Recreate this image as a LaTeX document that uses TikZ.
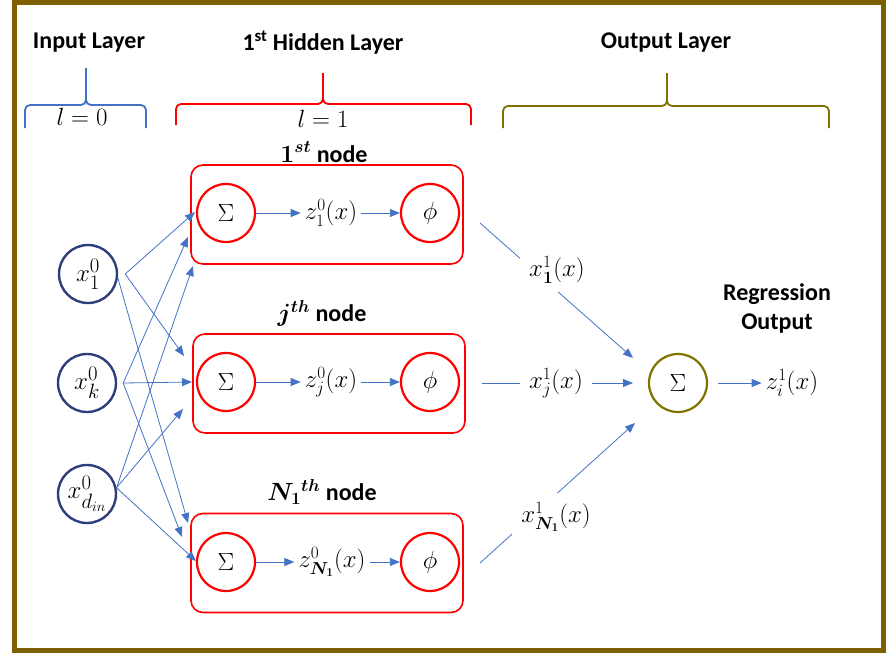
\documentclass[tikz,border=0pt]{standalone}
\usepackage{fontspec}
\setmainfont{Carlito}
\usepackage{amsmath,bm}
\usetikzlibrary{arrows.meta,positioning}

\definecolor{frameolive}{HTML}{7F6000}
\definecolor{outolive}{HTML}{7F7300}
\definecolor{inblue}{HTML}{2F3E7A}
\definecolor{arrowblue}{HTML}{4472C4}

\begin{document}
\begin{tikzpicture}[x=1pt,y=-1pt,
    >={Triangle[length=10pt,width=8pt]},
    conn/.style={->,arrowblue,line width=0.8pt},
    mathfont/.style={font=\fontsize{25}{29}\selectfont},
    innode/.style={circle,font=\fontsize{28}{32}\selectfont,draw=inblue,line width=2.4pt,minimum size=58pt,inner sep=0pt},
    sumnode/.style={circle,mathfont,draw=red,line width=2.2pt,minimum size=58pt,inner sep=0pt},
    hbox/.style={draw=red,line width=1.6pt,rounded corners=12pt,minimum width=272pt,minimum height=99pt},
    head/.style={font=\bfseries\fontsize{24}{29}\selectfont},
    lab/.style={mathfont,inner sep=4pt},
    wlab/.style={lab,fill=white,inner sep=9pt},
    brc/.style={line width=1.8pt,rounded corners=5pt}]
  \useasboundingbox (0,0) rectangle (886,653);
  \draw[frameolive,line width=5pt] (14.5,2.5) rectangle (883,650);

  % layer titles
  \node[head] (inhead) at (89,43) {Input Layer};
  \node[head] (hidhead) at (323,43) {1\textsuperscript{st} Hidden Layer};
  \node[head] (outhead) at (666,43) {Output Layer};

  % braces
  \draw[brc,arrowblue] (25,128) -- (25,105) -- (86,105) -- (86,68);
  \draw[brc,arrowblue] (146,128) -- (146,105) -- (86,105) -- (86,68);
  \draw[brc,red] (176,125) -- (176,104) -- (323,104) -- (323,73);
  \draw[brc,red] (471,125) -- (471,104) -- (323,104) -- (323,73);
  \draw[brc,outolive] (503,128) -- (503,106) -- (667,106) -- (667,73);
  \draw[brc,outolive] (829,128) -- (829,106) -- (667,106) -- (667,73);
  \node[lab] (l0) at (82,117) {$l=0$};
  \node[lab] (l1) at (323,119) {$l=1$};

  % inputs
  \node[innode] (x1) at (88,274) {$x_1^0$};
  \node[innode] (xk) at (87,383) {$x_k^0$};
  \node[innode] (xd) at (87,494) {$x_{d_{in}}^0$};

  % hidden nodes
  \node[hbox] (h1) at (327,214.5) {};
  \node[hbox] (hj) at (329,383.5) {};
  \node[hbox] (hn) at (327,563) {};
  \node[head] (t1) at (324,152) {$\bm{1}^{\bm{st}}$ node};
  \node[head] (tj) at (322,313) {$\bm{j}^{\bm{th}}$ node};
  \node[head] (tn) at (322,492) {$\bm{N_1}{}^{\bm{th}}$ node};

  \node[sumnode] (s1) at (226,213) {$\Sigma$};
  \node[sumnode] (p1) at (430,213) {$\phi$};
  \node[sumnode] (sj) at (226,382) {$\Sigma$};
  \node[sumnode] (pj) at (430,382) {$\phi$};
  \node[sumnode] (sn) at (226,562) {$\Sigma$};
  \node[sumnode] (pn) at (430,562) {$\phi$};

  \node[lab] (z1) at (331,213) {$z_1^0(x)$};
  \node[lab] (zj) at (331,382) {$z_j^0(x)$};
  \node[lab] (zn) at (332,562) {$z_{\bm{N_1}}^0(x)$};
  \draw[conn] (s1) -- (z1);
  \draw[conn] (z1) -- (p1);
  \draw[conn] (sj) -- (zj);
  \draw[conn] (zj) -- (pj);
  \draw[conn] (sn) -- (zn);
  \draw[conn] (zn) -- (pn);

  % input -> hidden
  \coordinate (e11) at (195,212);
  \coordinate (e1j) at (184,356);
  \coordinate (e1n) at (188,523);
  \coordinate (ek1) at (188,237);
  \coordinate (ekj) at (192,382);
  \coordinate (ekn) at (182,537);
  \coordinate (ed1) at (193,266);
  \coordinate (edj) at (183,409);
  \coordinate (edn) at (196,561);
  \draw[conn] ([xshift=7pt]x1.east) -- (e11);
  \draw[conn] ([xshift=7pt]x1.east) -- (e1j);
  \draw[conn] (x1.-8) -- (e1n);
  \draw[conn] ([xshift=6pt]xk.east) -- (ek1);
  \draw[conn] ([xshift=6pt]xk.east) -- (ekj);
  \draw[conn] ([xshift=6pt]xk.east) -- (ekn);
  \draw[conn] (xd.12) -- (ed1);
  \draw[conn] (xd.12) -- (edj);
  \draw[conn] (xd.12) -- (edn);

  % hidden -> output
  \node[circle,mathfont,draw=outolive,line width=2.2pt,minimum size=58pt,inner sep=0pt] (out) at (678,383) {$\Sigma$};
  \coordinate (a1) at (480,223);
  \coordinate (b1) at (633,358);
  \coordinate (aj) at (482,383);
  \coordinate (bj) at (633,383);
  \coordinate (an) at (480,563);
  \coordinate (bn) at (635,423);
  \draw[conn] (a1) -- (b1);
  \draw[conn] (aj) -- (bj);
  \draw[conn] (an) -- (bn);
  \node[wlab] (y1) at (557,270) {$x_{\bm{1}}^1(x)$};
  \node[wlab] (yj) at (556,383) {$x_j^1(x)$};
  \node[wlab] (yn) at (556,517) {$x_{\bm{N_1}}^1(x)$};

  \node[lab] (zo) at (792,383) {$z_i^1(x)$};
  \draw[conn,shorten <=10pt] (out) -- (zo);
  \node[head,align=center] (reg) at (777,308) {Regression\\Output};
\end{tikzpicture}
\end{document}
